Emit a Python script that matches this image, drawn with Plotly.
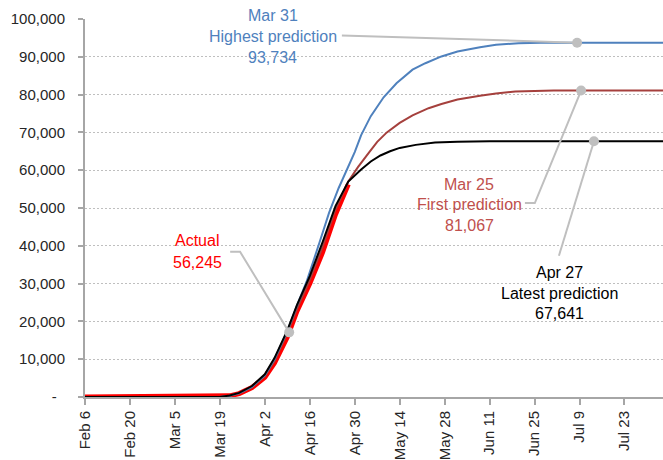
import plotly.graph_objects as go

# ---------------- data ----------------
actual_dates = ["2020-02-06", "2020-03-19", "2020-03-22", "2020-03-25", "2020-03-29",
                "2020-04-02", "2020-04-05", "2020-04-09", "2020-04-10", "2020-04-12",
                "2020-04-16", "2020-04-20", "2020-04-24", "2020-04-28"]
actual_vals = [0, 0, 300, 900, 2500, 5200, 9000, 15900, 18000, 22700,
               30000, 38300, 48300, 56245]

apr27_dates = ["2020-02-06", "2020-03-19", "2020-03-22", "2020-03-25", "2020-03-29",
               "2020-04-02", "2020-04-05", "2020-04-09", "2020-04-12", "2020-04-16",
               "2020-04-20", "2020-04-24", "2020-04-28", "2020-04-30", "2020-05-02",
               "2020-05-05", "2020-05-08", "2020-05-11", "2020-05-14", "2020-05-19",
               "2020-05-25", "2020-06-01", "2020-06-11", "2020-08-04"]
apr27_vals = [0, 0, 400, 1100, 2900, 6000, 10300, 17600, 24300, 32000,
              41000, 50500, 57000, 58600, 60200, 62300, 63900, 65000, 65900, 66700,
              67300, 67500, 67641, 67641]

mar25_dates = ["2020-02-06", "2020-03-19", "2020-03-22", "2020-03-25", "2020-03-29",
               "2020-04-02", "2020-04-05", "2020-04-09", "2020-04-12", "2020-04-16",
               "2020-04-20", "2020-04-24", "2020-04-28", "2020-05-01", "2020-05-04",
               "2020-05-07", "2020-05-10", "2020-05-14", "2020-05-18", "2020-05-23",
               "2020-05-27", "2020-06-01", "2020-06-08", "2020-06-13", "2020-06-19",
               "2020-07-01", "2020-08-04"]
mar25_vals = [0, 0, 350, 950, 2600, 5500, 9500, 17000, 23300, 31000,
              39800, 49600, 57000, 60800, 64200, 67500, 70000, 72500, 74500, 76400,
              77500, 78700, 79700, 80300, 80800, 81067, 81067]

mar31_dates = ["2020-02-06", "2020-03-19", "2020-03-22", "2020-03-25", "2020-03-29",
               "2020-04-02", "2020-04-05", "2020-04-09", "2020-04-12", "2020-04-15",
               "2020-04-19", "2020-04-22", "2020-04-25", "2020-04-28", "2020-04-30",
               "2020-05-02", "2020-05-05", "2020-05-09", "2020-05-13", "2020-05-18",
               "2020-05-22", "2020-05-27", "2020-06-01", "2020-06-08", "2020-06-13",
               "2020-06-20", "2020-06-27", "2020-08-04"]
mar31_vals = [0, 0, 350, 1000, 2700, 5700, 10000, 17400, 24200, 30500,
              40800, 48700, 55300, 61000, 64800, 69300, 74300, 79300, 83000, 86600,
              88300, 90100, 91400, 92500, 93200, 93600, 93734, 93734]

x_tick_vals = ["2020-02-06", "2020-02-20", "2020-03-05", "2020-03-19", "2020-04-02",
               "2020-04-16", "2020-04-30", "2020-05-14", "2020-05-28", "2020-06-11",
               "2020-06-25", "2020-07-09", "2020-07-23"]
x_tick_text = ["Feb 6", "Feb 20", "Mar 5", "Mar 19", "Apr 2", "Apr 16", "Apr 30",
               "May 14", "May 28", "Jun 11", "Jun 25", "Jul 9", "Jul 23"]
y_tick_vals = [0, 10000, 20000, 30000, 40000, 50000, 60000, 70000, 80000, 90000, 100000]
y_tick_text = ["-\u00a0\u00a0", "10,000", "20,000", "30,000", "40,000", "50,000",
               "60,000", "70,000", "80,000", "90,000", "100,000"]

Y_MAX = 100000

# callouts: leader line path (date, value) ending at the highlighted point
callouts = [
    dict(lines=["Mar 31", "Highest prediction", "93,734"], color="#4f81bd",
         xs=["2020-04-26 00:00", "2020-07-08 06:00"], ys=[95660, 93734],
         tx="2020-04-04 12:00", ty=[100800, 95400, 89900]),
    dict(lines=["Mar 25", "First prediction", "81,067"], color="#c0504d",
         xs=["2020-06-22 00:00", "2020-06-25 02:00", "2020-07-09 12:00"], ys=[51316, 51316, 81067],
         tx="2020-06-04 14:00", ty=[56300, 50800, 45500]),
    dict(lines=["Apr 27", "Latest prediction", "67,641"], color="#000000",
         xs=["2020-07-02 14:00", "2020-07-13 12:00"], ys=[37368, 67641],
         tx="2020-07-02 20:00", ty=[33000, 27300, 22000]),
    dict(lines=["Actual", "56,245"], color="#ff0000",
         xs=["2020-03-22 05:00", "2020-03-25 07:00", "2020-04-09 14:00"], ys=[38421, 38421, 17100],
         tx="2020-03-12 00:00", ty=[41500, 35700]),
]

GRID = "#bfbfbf"
AXIS = "#a6a6a6"
TICKFONT = dict(family="Liberation Sans, Arial, sans-serif", size=15, color="#262626")
NOTEFONT = "Liberation Sans, Arial, sans-serif"

fig = go.Figure()
fig.add_trace(go.Scatter(x=actual_dates, y=actual_vals, mode="lines",
                         line=dict(color="#ff0000", width=5), hoverinfo="skip"))
fig.add_trace(go.Scatter(x=mar25_dates, y=mar25_vals, mode="lines",
                         line=dict(color="#a5403d", width=2), hoverinfo="skip"))
fig.add_trace(go.Scatter(x=mar31_dates, y=mar31_vals, mode="lines",
                         line=dict(color="#4f81bd", width=2), hoverinfo="skip"))
fig.add_trace(go.Scatter(x=apr27_dates, y=apr27_vals, mode="lines",
                         line=dict(color="#000000", width=2), hoverinfo="skip"))

for c in callouts:
    fig.add_trace(go.Scatter(x=c["xs"], y=c["ys"], mode="lines",
                             line=dict(color=GRID, width=2), hoverinfo="skip"))
    fig.add_trace(go.Scatter(x=[c["xs"][-1]], y=[c["ys"][-1]], mode="markers",
                             marker=dict(color=GRID, size=10), hoverinfo="skip"))
    for txt, yy in zip(c["lines"], c["ty"]):
        fig.add_annotation(x=c["tx"], y=yy / Y_MAX, xref="x", yref="paper", text=txt,
                           showarrow=False, xanchor="center", yanchor="middle",
                           font=dict(family=NOTEFONT, size=16, color=c["color"]))

fig.update_layout(
    width=663, height=460,
    margin=dict(l=85, r=0, t=19, b=61),
    paper_bgcolor="white", plot_bgcolor="white",
    showlegend=False,
)
fig.update_xaxes(
    type="date", range=["2020-02-06", "2020-08-04"],
    tickmode="array", tickvals=x_tick_vals, ticktext=x_tick_text, tickangle=-90,
    tickfont=TICKFONT, showgrid=False, zeroline=False,
    showline=True, linecolor=AXIS, linewidth=2,
    ticks="outside", ticklen=6, tickcolor=AXIS, tickwidth=2,
)
fig.update_yaxes(
    range=[0, Y_MAX], tickmode="array", tickvals=y_tick_vals, ticktext=y_tick_text,
    tickfont=TICKFONT, showgrid=True, gridcolor=GRID, gridwidth=1, griddash="2px,2px",
    zeroline=False, showline=True, linecolor=AXIS, linewidth=2,
    ticks="outside", ticklen=5, tickcolor=AXIS, tickwidth=2, ticklabelstandoff=10,
)

fig.write_html("out.html", config={"displayModeBar": False},
               post_script="document.body.style.margin='0';")
